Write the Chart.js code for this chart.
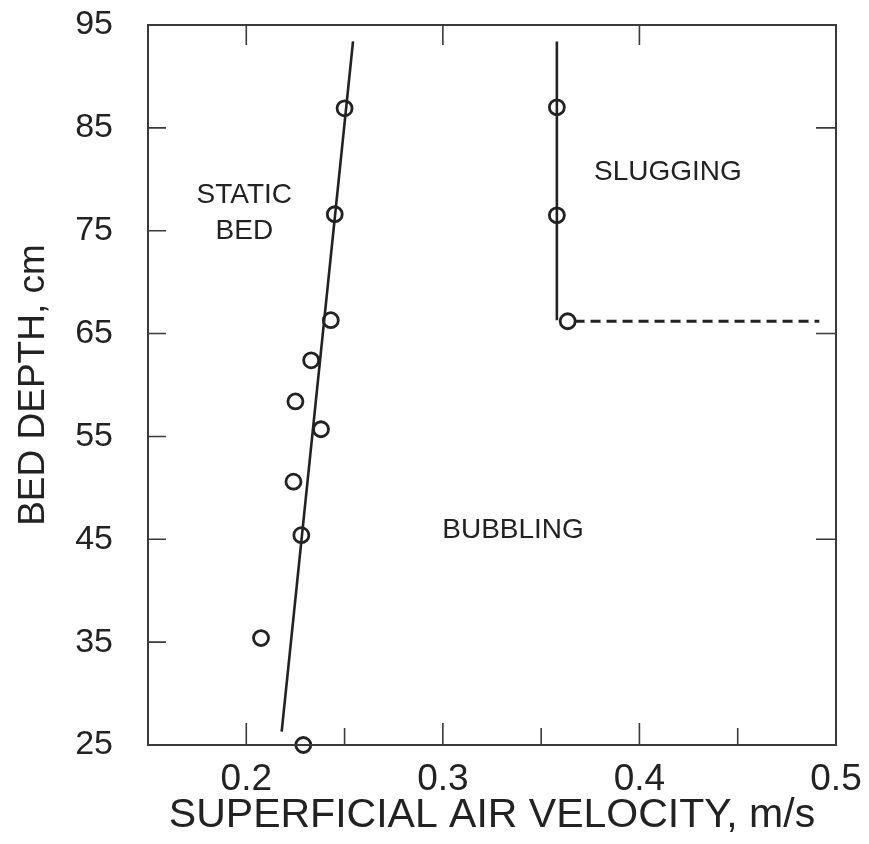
<!DOCTYPE html>
<html>
<head>
<meta charset="utf-8">
<script src="https://cdn.jsdelivr.net/npm/chart.js@4.4.1/dist/chart.umd.min.js"></script>
<style>
  html, body { margin: 0; padding: 0; background: #fff; }
  #wrap { width: 869px; height: 844px; }
</style>
</head>
<body>
<div id="wrap"><canvas id="chart"></canvas></div>
<script>
// static bed -> bubbling transition points
const staticX = [0.250, 0.245, 0.243, 0.233, 0.225, 0.238, 0.224, 0.228, 0.2075, 0.229];
const staticY = [86.9, 76.6, 66.3, 62.4, 58.4, 55.7, 50.6, 45.4, 35.4, 25.0];
// fitted boundary
const staticLineX = [0.218, 0.2543];
const staticLineY = [26.3, 93.4];
// bubbling -> slugging points
const slugX = [0.358, 0.358, 0.3635];
const slugY = [87.0, 76.5, 66.2];
const slugLineX = [0.358, 0.358];
const slugLineY = [93.4, 66.3];
const dashX = [0.367, 0.4915];
const dashY = [66.2, 66.2];

// axes
const xTicks = [0.2, 0.3, 0.4, 0.5];
const xMinorTicks = [0.25, 0.35, 0.45];
const topTicks = [0.2, 0.3, 0.4];
const yTicks = [25, 35, 45, 55, 65, 75, 85, 95];
const leftTicks = [35, 45, 55, 65, 75, 85];
const rightTicks = [45, 65, 85];

// region names
const regionText = ['STATIC', 'BED', 'SLUGGING', 'BUBBLING'];
const regionX = [0.199, 0.199, 0.4145, 0.3357];
const regionY = [78.4, 74.9, 80.7, 45.9];

const pts = (xs, ys) => xs.map((x, i) => ({ x: x, y: ys[i] }));
const ink = '#222';
const fontFamily = '"Liberation Sans", Arial, sans-serif';

// frame, inward ticks and region labels
const framePlugin = {
    id: 'frame',
    afterDatasetsDraw(chart) {
        const ctx = chart.ctx;
        const a = chart.chartArea;
        const xs = chart.scales.x, ys = chart.scales.y;
        ctx.save();
        ctx.strokeStyle = '#3a3a3a';
        ctx.lineWidth = 2;
        ctx.strokeRect(a.left, a.top, a.right - a.left, a.bottom - a.top);
        ctx.lineWidth = 1.6;
        ctx.beginPath();
        xTicks.forEach(v => { const p = xs.getPixelForValue(v); ctx.moveTo(p, a.bottom); ctx.lineTo(p, a.bottom - 22); });
        xMinorTicks.forEach(v => { const p = xs.getPixelForValue(v); ctx.moveTo(p, a.bottom); ctx.lineTo(p, a.bottom - 17); });
        topTicks.forEach(v => { const p = xs.getPixelForValue(v); ctx.moveTo(p, a.top); ctx.lineTo(p, a.top + 20); });
        leftTicks.forEach(v => { const p = ys.getPixelForValue(v); ctx.moveTo(a.left, p); ctx.lineTo(a.left + 18, p); });
        rightTicks.forEach(v => { const p = ys.getPixelForValue(v); ctx.moveTo(a.right, p); ctx.lineTo(a.right - 20, p); });
        ctx.stroke();

        ctx.fillStyle = ink;
        ctx.font = '28px ' + fontFamily;
        ctx.textAlign = 'center';
        ctx.textBaseline = 'middle';
        regionText.forEach((t, i) => {
            ctx.fillText(t, xs.getPixelForValue(regionX[i]), ys.getPixelForValue(regionY[i]));
        });
        ctx.restore();
    }
};

new Chart(document.getElementById('chart').getContext('2d'), {
    type: 'scatter',
    data: {
        datasets: [
            {
                data: pts(staticLineX, staticLineY),
                showLine: true,
                borderColor: ink,
                borderWidth: 2.6,
                pointRadius: 0
            },
            {
                data: pts(slugLineX, slugLineY),
                showLine: true,
                borderColor: ink,
                borderWidth: 2.6,
                pointRadius: 0
            },
            {
                data: pts(dashX, dashY),
                showLine: true,
                borderColor: ink,
                borderWidth: 3.2,
                borderDash: [10, 6],
                pointRadius: 0
            },
            {
                data: pts(staticX, staticY),
                pointRadius: 7.5,
                pointBorderWidth: 2.8,
                pointBackgroundColor: '#fff',
                pointBorderColor: ink
            },
            {
                data: pts(slugX, slugY),
                pointRadius: 7.5,
                pointBorderWidth: 2.8,
                pointBackgroundColor: '#fff',
                pointBorderColor: ink
            }
        ]
    },
    options: {
        responsive: true,
        maintainAspectRatio: false,
        animation: false,
        clip: false,
        layout: { padding: { top: 25, right: 33, left: 0, bottom: 0 } },
        plugins: {
            legend: { display: false },
            tooltip: { enabled: false }
        },
        scales: {
            x: {
                type: 'linear',
                min: 0.15,
                max: 0.5,
                afterBuildTicks: s => { s.ticks = xTicks.map(v => ({ value: v })); },
                afterFit: s => { s.height = 99; s.paddingLeft = 0; s.paddingRight = 0; },
                grid: { display: false, drawTicks: false },
                border: { display: false },
                ticks: {
                    color: ink,
                    padding: 13,
                    maxRotation: 0,
                    font: { family: fontFamily, size: 37 },
                    callback: v => v.toFixed(1)
                },
                title: {
                    display: true,
                    text: 'SUPERFICIAL AIR VELOCITY, m/s',
                    color: ink,
                    padding: { top: 0, bottom: 4 },
                    font: { family: fontFamily, size: 41 }
                }
            },
            y: {
                type: 'linear',
                min: 25,
                max: 95,
                afterBuildTicks: s => { s.ticks = yTicks.map(v => ({ value: v })); },
                afterFit: s => { s.width = 148; s.paddingTop = 0; s.paddingBottom = 0; },
                grid: { display: false, drawTicks: false },
                border: { display: false },
                ticks: {
                    color: ink,
                    padding: 35,
                    font: { family: fontFamily, size: 34 }
                },
                title: {
                    display: true,
                    text: 'BED DEPTH, cm',
                    color: ink,
                    padding: { top: 12, bottom: 0 },
                    font: { family: fontFamily, size: 37 }
                }
            }
        }
    },
    plugins: [framePlugin]
});
</script>
</body>
</html>
